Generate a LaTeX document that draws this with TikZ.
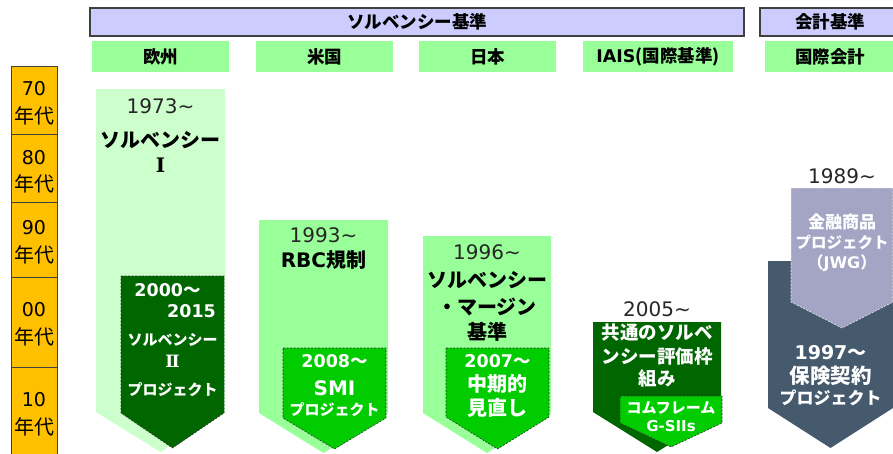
\documentclass[tikz,border=0pt]{standalone}
\usepackage{fontspec}
\setmainfont{DejaVu Sans}
\newfontfamily\jp{Noto Sans CJK JP}
\newfontfamily\dv{DejaVu Sans}
\newfontfamily\dvs{DejaVu Serif}
\definecolor{tlfill}{HTML}{FFC000}
\definecolor{barfill}{HTML}{CCCCFF}
\definecolor{hdrgreen}{HTML}{99FF99}
\definecolor{palegreen}{HTML}{CCFFCC}
\definecolor{dkgreen}{HTML}{006600}
\definecolor{brgreen}{HTML}{00CC00}
\definecolor{slate}{HTML}{465A6E}
\definecolor{lavgray}{HTML}{A4A4C4}
\definecolor{edgegray}{HTML}{404040}
\newcommand\mychev[6]{\path[#1] (#2,#4) -- (#3,#4) -- (#3,#5) -- ({(#2+#3)/2},#6) -- (#2,#5) -- cycle;}
\tikzset{
  tlline/.style={draw=edgegray, line width=0.8pt},
  bar/.style={fill=barfill, draw=edgegray, line width=1.2pt},
  ghead/.style={fill=hdrgreen},
  hdrtxt/.style={inner sep=0pt, text=black, font=\jp\bfseries\fontsize{17.5}{17.5}\selectfont},
  dec/.style={inner sep=0pt, text=black, font=\dv\fontsize{19}{19}\selectfont},
  dectj/.style={inner sep=0pt, text=black, font=\jp\fontsize{20}{20}\selectfont},
  yr/.style={inner sep=0pt, text=black!85, font=\dv\fontsize{20}{20}\selectfont},
  bk/.style={inner sep=0pt, text=black, font=\jp\bfseries\fontsize{#1}{#1}\selectfont},
  wb/.style={inner sep=0pt, text=white, font=\jp\bfseries\fontsize{#1}{#1}\selectfont},
  dashbox/.style={draw=black!80, line width=0.6pt, dash pattern=on 2pt off 1.5pt},
}
\begin{document}
\begin{tikzpicture}[x=1pt,y=-1pt]
\useasboundingbox (0,0) rectangle (893,453);
\clip (0,0) rectangle (893,453);
% ---------- timeline ----------
\fill[tlfill] (11,66) rectangle (57,470);
\draw[tlline] (11,470) -- (11,66) -- (57,66) -- (57,470);
\foreach \yy in {134,202,277,367} \draw[tlline] (11,\yy) -- (57,\yy);
\node[dec]   (d70)  at (34,89)  {70};
\node[dectj] (d70b) at (34,116) {年代};
\node[dec]   (d80)  at (34,158) {80};
\node[dectj] (d80b) at (34,184) {年代};
\node[dec]   (d90)  at (34,228) {90};
\node[dectj] (d90b) at (34,255) {年代};
\node[dec]   (d00)  at (34,310) {00};
\node[dectj] (d00b) at (34,337) {年代};
\node[dec]   (d10)  at (34,400) {10};
\node[dectj] (d10b) at (34,427) {年代};
% ---------- header bars ----------
\path[bar] (90,8) rectangle (744,36);
\node[hdrtxt] (solv) at (417,22) {ソルベンシー基準};
\path[bar] (760,8) rectangle (900,36);
\node[hdrtxt] (acct) at (830,22) {会計基準};
\fill[ghead] (92,41) rectangle (229,72);
\node[hdrtxt] (eu) at (160.5,57) {欧州};
\fill[ghead] (256,41) rectangle (393,72);
\node[hdrtxt] (us) at (324.5,57) {米国};
\fill[ghead] (419,41) rectangle (556,72);
\node[hdrtxt] (jpn) at (487.5,57) {日本};
\fill[ghead] (583,41) rectangle (733,72);
\node[hdrtxt] (iais) at (658,57) {{\dv IAIS}(国際基準)};
\fill[ghead] (765,41) rectangle (900,72);
\node[hdrtxt] (ifrs) at (830,57) {国際会計};
% ---------- Europe ----------
\mychev{fill=palegreen}{96}{225}{89}{412}{452}
\node[yr] (y1973) at (160.5,106) {1973\textasciitilde};
\node[bk=20] (s1a) at (160.5,140) {ソルベンシー};
\node[bk=20] (s1b) at (160.5,165) {\dvs Ⅰ};
\mychev{fill=dkgreen, dashbox}{121}{224}{276}{413}{448}
\node[wb=17.5] (y2000) at (167.5,290) {{\dv 2000}～};
\node[wb=17.5] (y2015) at (191.5,311) {{\dv 2015}};
\node[wb=15] (s2a) at (172.5,340) {ソルベンシー};
\node[wb=17] (s2b) at (172.5,361) {\dvs Ⅱ};
\node[wb=15] (s2c) at (172.5,390) {プロジェクト};
% ---------- US ----------
\mychev{fill=hdrgreen}{259}{388}{220}{413}{453}
\node[yr] (y1993) at (323.5,235) {1993\textasciitilde};
\node[bk=20] (rbc) at (323.5,260) {{\dv RBC}規制};
\mychev{fill=brgreen, dashbox}{283}{386}{348}{418}{449}
\node[wb=17.5] (y2008) at (334.5,361) {{\dv 2008}～};
\node[wb=20] (smi) at (334.5,388) {{\dv SMI}};
\node[wb=15] (smip) at (334.5,410) {プロジェクト};
% ---------- Japan ----------
\mychev{fill=hdrgreen}{423}{551}{236}{413}{453}
\node[yr] (y1996) at (487,252) {1996\textasciitilde};
\node[bk=20] (smma) at (487,280) {ソルベンシー};
\node[bk=20] (smmb) at (487,307) {・マージン};
\node[bk=20] (smmc) at (487,332) {基準};
\mychev{fill=brgreen, dashbox}{446}{549}{348}{417}{449}
\node[wb=17.5] (y2007) at (497.5,361) {{\dv 2007}～};
\node[wb=20] (mid1) at (497.5,384) {中期的};
\node[wb=20] (mid2) at (497.5,408) {見直し};
% ---------- IAIS ----------
\node[yr] (y2005) at (657,309) {2005\textasciitilde};
\mychev{fill=dkgreen}{593}{721}{322}{412}{452}
\node[wb=18.5] (ic1) at (657,333) {共通のソルベ};
\node[wb=18.5] (ic2) at (657,356) {ンシー評価枠};
\node[wb=18.5] (ic3) at (657,378) {組み};
\mychev{fill=brgreen, dashbox}{620}{722}{396}{423}{447}
\node[wb=15] (cf1) at (671,408) {コムフレーム};
\node[wb=15] (cf2) at (671,426) {{\dv G-SIIs}};
% ---------- International accounting ----------
\mychev{fill=slate}{768}{893}{261}{408}{448}
\node[yr] (y1989) at (842,176) {1989\textasciitilde};
\mychev{fill=lavgray, draw=white!80!lavgray, line width=0.6pt, dash pattern=on 2pt off 1.5pt}{791}{893}{188}{302}{328}
\node[wb=17] (fi1) at (842,222) {金融商品};
\node[wb=15.5] (fi2) at (842,242) {プロジェクト};
\node[wb=16] (fi3) at (842,263) {（{\dv JWG}）};
\node[wb=19] (y1997) at (830.5,353) {{\dv 1997}～};
\node[wb=20.5] (ic) at (830.5,376) {保険契約};
\node[wb=17] (icp) at (830.5,398) {プロジェクト};
\end{tikzpicture}
\end{document}
